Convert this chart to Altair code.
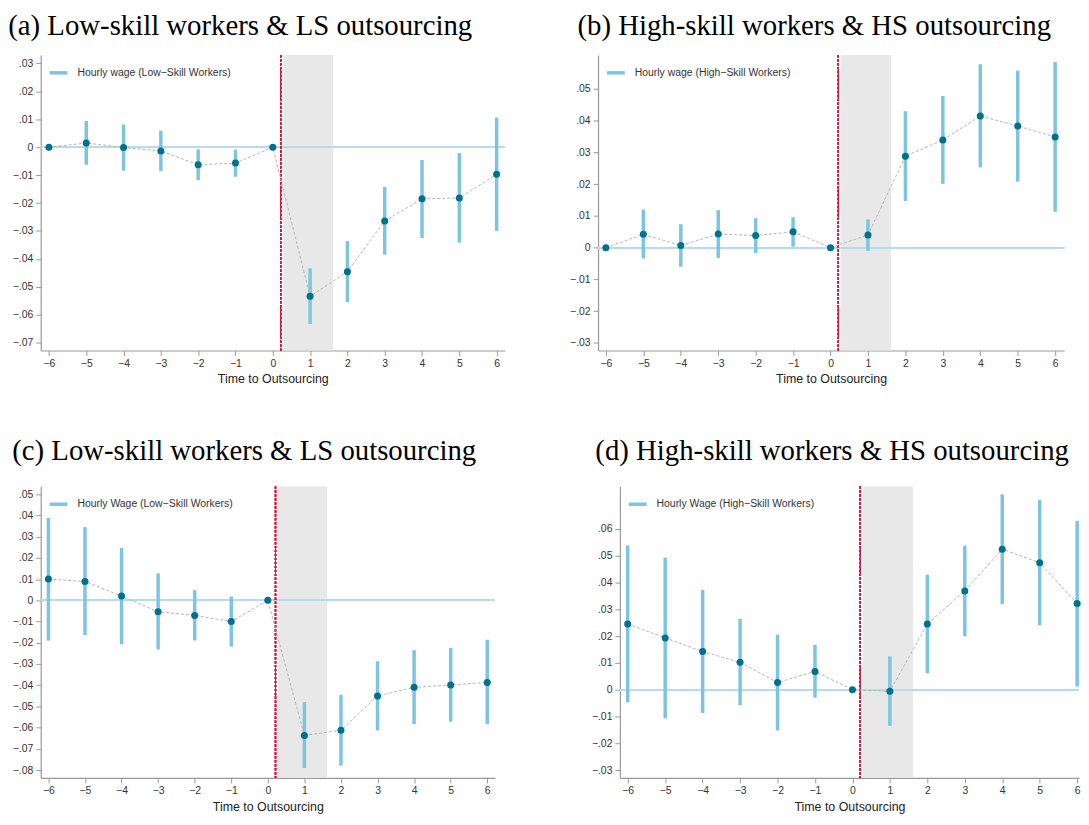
import altair as alt
import pandas as pd

# ---------------- data ----------------
t = [-6, -5, -4, -3, -2, -1, 0, 1, 2, 3, 4, 5, 6]

# (a) Low-skill workers & LS outsourcing
a_b = [0.0, 0.0015, -0.0001, -0.0014, -0.0063, -0.0057, 0.0, -0.0534, -0.0446, -0.0264, -0.0185, -0.0182, -0.0097]
a_lo = [None, -0.0063, -0.0084, -0.0086, -0.0118, -0.0106, None, -0.0633, -0.0555, -0.0385, -0.0325, -0.0342, -0.0300]
a_hi = [None, 0.0094, 0.0081, 0.0059, -0.0008, -0.0009, None, -0.0434, -0.0336, -0.0142, -0.0046, -0.0021, 0.0106]

# (b) High-skill workers & HS outsourcing
b_b = [0.0, 0.0042, 0.0007, 0.0043, 0.0038, 0.0050, 0.0, 0.0040, 0.0288, 0.0339, 0.0415, 0.0383, 0.0349]
b_lo = [None, -0.0034, -0.0060, -0.0032, -0.0017, 0.0003, None, -0.0010, 0.0147, 0.0201, 0.0253, 0.0208, 0.0113]
b_hi = [None, 0.0120, 0.0074, 0.0118, 0.0093, 0.0096, None, 0.0089, 0.0430, 0.0478, 0.0578, 0.0558, 0.0585]

# (c) Low-skill workers & LS outsourcing
c_b = [0.0100, 0.0089, 0.0020, -0.0054, -0.0071, -0.0100, 0.0, -0.0637, -0.0612, -0.0451, -0.0410, -0.0399, -0.0387]
c_lo = [-0.0190, -0.0164, -0.0207, -0.0232, -0.0189, -0.0218, None, -0.0790, -0.0779, -0.0613, -0.0583, -0.0572, -0.0584]
c_hi = [0.0388, 0.0345, 0.0247, 0.0127, 0.0048, 0.0018, None, -0.0480, -0.0445, -0.0287, -0.0235, -0.0224, -0.0186]

# (d) High-skill workers & HS outsourcing
d_b = [0.0245, 0.0193, 0.0142, 0.0102, 0.0027, 0.0068, 0.0, -0.0006, 0.0245, 0.0368, 0.0524, 0.0473, 0.0321]
d_lo = [-0.0047, -0.0107, -0.0087, -0.0058, -0.0152, -0.0030, None, -0.0135, 0.0061, 0.0199, 0.0319, 0.0240, 0.0012]
d_hi = [0.0538, 0.0492, 0.0372, 0.0264, 0.0205, 0.0167, None, 0.0124, 0.0429, 0.0537, 0.0728, 0.0708, 0.0630]

titles = [
    "(a) Low-skill workers & LS outsourcing",
    "(b) High-skill workers & HS outsourcing",
    "(c) Low-skill workers & LS outsourcing",
    "(d) High-skill workers & HS outsourcing",
]
series = [
    "Hourly wage (Low\u2212Skill Workers)",
    "Hourly wage (High\u2212Skill Workers)",
    "Hourly Wage (Low\u2212Skill Workers)",
    "Hourly Wage (High\u2212Skill Workers)",
]
y_ticks = [
    [0.03, 0.02, 0.01, 0.0, -0.01, -0.02, -0.03, -0.04, -0.05, -0.06, -0.07],
    [0.05, 0.04, 0.03, 0.02, 0.01, 0.0, -0.01, -0.02, -0.03],
    [0.05, 0.04, 0.03, 0.02, 0.01, 0.0, -0.01, -0.02, -0.03, -0.04, -0.05, -0.06, -0.07, -0.08],
    [0.06, 0.05, 0.04, 0.03, 0.02, 0.01, 0.0, -0.01, -0.02, -0.03],
]
y_domains = [[-0.0728, 0.0330], [-0.0324, 0.0607], [-0.0837, 0.0537], [-0.0329, 0.0758]]
x_domains = [[-6.22, 6.22], [-6.21, 6.24], [-6.21, 6.21], [-6.21, 6.05]]

shade_start = [0.28]
shade_end = [1.62]
event_line = 0.21

# ---------------- styling ----------------
BAR = "#7cc4df"
DOT = "#00708f"
ZERO = "#b7dce9"
SHADE = "#e8e8e8"
RED = "#d9163f"
CONN = "#b3b3b3"

label_expr = ("datum.value == 0 ? '0' : (datum.value < 0 ? '\u2212' : '') + "
              "substring(format(abs(datum.value), '.2f'), 1)")


def panel(i, b, lo, hi, w, h, title_dx, title_offset):
    df = pd.DataFrame({"t": t, "b": b, "lo": lo, "hi": hi, "series": series[i]})
    shade_df = pd.DataFrame({"x0": shade_start, "x1": shade_end})
    xs = alt.Scale(domain=x_domains[i], nice=False, zero=False)
    ys = alt.Scale(domain=y_domains[i], nice=False, zero=False)
    xax = alt.Axis(values=t, title="Time to Outsourcing", grid=False, labelFlush=False,
                   labelOverlap=False, labelSeparation=0,
                   domainColor="#999999", tickColor="#999999", tickSize=5, domainWidth=1.2,
                   labelFont="Liberation Sans", labelFontSize=10.5, labelColor="#333333",
                   titleFont="Liberation Sans", titleFontSize=12.5, titleFontWeight="normal",
                   titleColor="#222222", labelPadding=3, titlePadding=4)
    yax = alt.Axis(values=y_ticks[i], title=None, grid=False, labelExpr=label_expr,
                   labelOverlap=False, labelSeparation=0,
                   domainColor="#999999", tickColor="#999999", tickSize=5, domainWidth=1.2,
                   labelFont="Liberation Sans", labelFontSize=10.5, labelColor="#333333",
                   labelPadding=3, labelFlush=False)

    base = alt.Chart(df)
    shade = alt.Chart(shade_df).mark_rect(color=SHADE).encode(
        x=alt.X("x0:Q", scale=xs, axis=xax), x2="x1:Q")
    zero = base.mark_rule(color=ZERO, strokeWidth=1.5).encode(y=alt.datum(0, scale=ys, axis=yax))
    red = base.mark_rule(color=RED, strokeWidth=1.2, strokeDash=[2.5, 1.5]).encode(
        x=alt.datum(event_line, axis=xax))
    bars = base.transform_filter("isValid(datum.lo)").mark_rule(strokeWidth=3.5).encode(
        x=alt.X("t:Q", axis=xax), y=alt.Y("lo:Q", axis=yax), y2="hi:Q",
        color=alt.Color("series:N", scale=alt.Scale(range=[BAR]),
                        legend=alt.Legend(title=None, orient="top-left", offset=7, padding=0,
                                          symbolType="stroke", symbolSize=324, symbolStrokeWidth=3.5,
                                          labelFont="Liberation Sans", labelFontSize=10.5,
                                          labelColor="#333333", labelOffset=8, labelLimit=400)))
    conn = base.mark_line(color=CONN, strokeWidth=1, strokeDash=[3, 2]).encode(
        x=alt.X("t:Q", axis=xax), y=alt.Y("b:Q", axis=yax))
    dots = base.mark_circle(color=DOT, size=50, opacity=1).encode(
        x=alt.X("t:Q", axis=xax), y=alt.Y("b:Q", axis=yax))

    return alt.layer(shade, zero, red, bars, conn, dots).properties(
        width=w, height=h,
        title=alt.TitleParams(titles[i], font="Liberation Serif", fontSize=29, fontWeight="normal",
                              color="black", anchor="start", frame="bounds", offset=title_offset,
                              dx=title_dx),
    ).resolve_scale(color="independent")


pa = panel(0, a_b, a_lo, a_hi, 468, 298, -4, 14)
pb = panel(1, b_b, b_lo, b_hi, 470, 298, 8, 14)
pc = panel(2, c_b, c_lo, c_hi, 458, 294, 0, 20)
pd_ = panel(3, d_b, d_lo, d_hi, 463, 294, 4, 20)

top = alt.hconcat(pa, pb, spacing=64).resolve_scale(color="independent").resolve_legend(color="independent")
bottom = alt.hconcat(pc, pd_, spacing=96).resolve_scale(color="independent").resolve_legend(color="independent")

chart = (
    alt.vconcat(top, bottom, spacing=52)
    .resolve_scale(color="independent")
    .resolve_legend(color="independent")
    .properties(padding=0, background="white")
    .configure_view(stroke=None, strokeWidth=0)
    .configure_axis(labelOverlap=False, grid=False)
)

chart.save("out.html", embed_options={"renderer": "svg", "actions": False})
